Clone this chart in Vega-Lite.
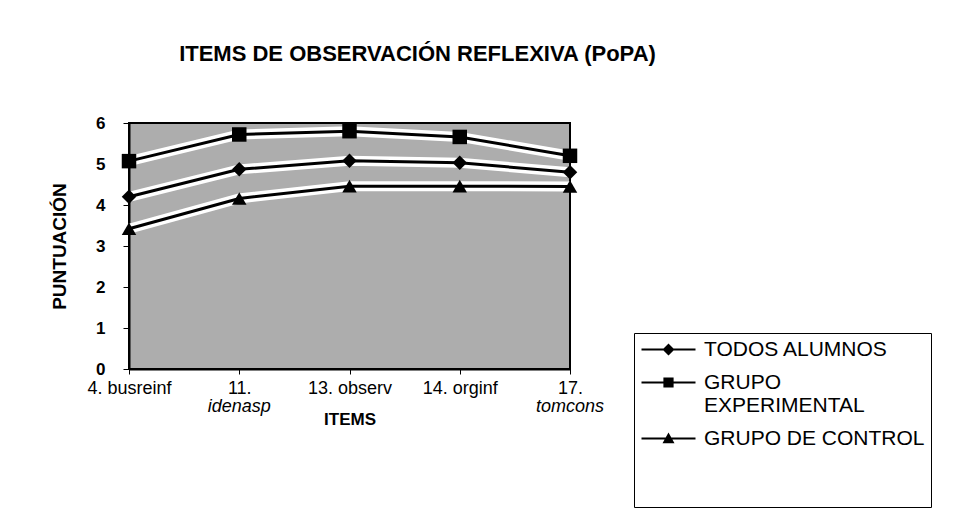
{
  "$schema": "https://vega.github.io/schema/vega-lite/v6.json",
  "autosize": {"type": "none"},
  "width": 441,
  "height": 246,
  "padding": {"left": 129, "top": 123, "right": 389, "bottom": 148},
  "background": "white",
  "title": {
    "text": "ITEMS DE OBSERVACIÓN REFLEXIVA (PoPA)",
    "font": "Liberation Sans",
    "fontSize": 22,
    "fontWeight": "bold",
    "color": "black",
    "anchor": "middle",
    "dx": 68,
    "offset": 45
  },
  "config": {
    "view": {"fill": "#adadad", "stroke": "black", "strokeWidth": 2},
    "font": "Liberation Sans"
  },
  "datasets": {
    "scores": [
      {"item": "4. busreinf", "serie": "TODOS ALUMNOS", "value": 4.2},
      {"item": "11.", "serie": "TODOS ALUMNOS", "value": 4.87},
      {"item": "13. observ", "serie": "TODOS ALUMNOS", "value": 5.08},
      {"item": "14. orginf", "serie": "TODOS ALUMNOS", "value": 5.03},
      {"item": "17.", "serie": "TODOS ALUMNOS", "value": 4.8},
      {"item": "4. busreinf", "serie": "GRUPO EXPERIMENTAL", "value": 5.07},
      {"item": "11.", "serie": "GRUPO EXPERIMENTAL", "value": 5.72},
      {"item": "13. observ", "serie": "GRUPO EXPERIMENTAL", "value": 5.8},
      {"item": "14. orginf", "serie": "GRUPO EXPERIMENTAL", "value": 5.66},
      {"item": "17.", "serie": "GRUPO EXPERIMENTAL", "value": 5.2},
      {"item": "4. busreinf", "serie": "GRUPO DE CONTROL", "value": 3.42},
      {"item": "11.", "serie": "GRUPO DE CONTROL", "value": 4.16},
      {"item": "13. observ", "serie": "GRUPO DE CONTROL", "value": 4.46},
      {"item": "14. orginf", "serie": "GRUPO DE CONTROL", "value": 4.46},
      {"item": "17.", "serie": "GRUPO DE CONTROL", "value": 4.45}
    ],
    "items": [
      {"item": "4. busreinf", "sub": ""},
      {"item": "11.", "sub": "idenasp"},
      {"item": "13. observ", "sub": ""},
      {"item": "14. orginf", "sub": ""},
      {"item": "17.", "sub": "tomcons"}
    ]
  },
  "encoding": {
    "x": {
      "field": "item",
      "type": "nominal",
      "sort": ["4. busreinf", "11.", "13. observ", "14. orginf", "17."],
      "scale": {"type": "point", "padding": 0},
      "axis": {
        "title": "ITEMS",
        "titleFont": "Liberation Sans",
        "titleFontSize": 17,
        "titleFontWeight": "bold",
        "titleColor": "black",
        "titlePadding": 14,
        "labelFont": "Liberation Sans",
        "labelFontSize": 18,
        "labelColor": "black",
        "labelAngle": 0,
        "labelPadding": 5,
        "tickSize": 5,
        "tickColor": "black",
        "domainColor": "black",
        "domainWidth": 2,
        "grid": false
      }
    }
  },
  "resolve": {"scale": {"shape": "independent"}},
  "layer": [
    {
      "data": {"name": "scores"},
      "mark": {"type": "line", "color": "white", "strokeWidth": 10},
      "encoding": {
        "y": {"field": "value", "type": "quantitative"},
        "detail": {"field": "serie"}
      }
    },
    {
      "data": {"name": "scores"},
      "mark": {"type": "line", "color": "black", "strokeWidth": 3},
      "encoding": {
        "y": {"field": "value", "type": "quantitative"},
        "detail": {"field": "serie"}
      }
    },
    {
      "data": {"name": "scores"},
      "mark": {"type": "point", "filled": true, "color": "black", "opacity": 1, "size": 210},
      "encoding": {
        "y": {
          "field": "value",
          "type": "quantitative",
          "scale": {"domain": [0, 6], "nice": false},
          "axis": {
            "title": "PUNTUACIÓN",
            "titleFont": "Liberation Sans",
            "titleFontSize": 19,
            "titleFontWeight": "bold",
            "titleColor": "black",
            "titlePadding": 26,
            "labelFont": "Liberation Sans",
            "labelFontSize": 17,
            "labelFontWeight": "bold",
            "labelColor": "black",
            "labelPadding": 18,
            "values": [0, 1, 2, 3, 4, 5, 6],
            "tickSize": 6,
            "tickColor": "black",
            "domainColor": "black",
            "domainWidth": 2,
            "grid": false
          }
        },
        "shape": {
          "field": "serie",
          "type": "nominal",
          "scale": {
            "domain": ["TODOS ALUMNOS", "GRUPO EXPERIMENTAL", "GRUPO DE CONTROL"],
            "range": ["diamond", "square", "triangle-up"]
          },
          "legend": null
        }
      }
    },
    {
      "data": {"name": "scores"},
      "mark": {"type": "point", "filled": true, "color": "black", "opacity": 0},
      "encoding": {
        "y": {"field": "value", "type": "quantitative"},
        "shape": {
          "field": "serie",
          "type": "nominal",
          "scale": {
            "domain": ["TODOS ALUMNOS", "GRUPO EXPERIMENTAL", "GRUPO DE CONTROL"],
            "range": [
              "M-4.5,-0.16H4.5V0.16H-4.5Z M0,-1L1,0L0,1L-1,0Z",
              "M-4.5,-0.16H4.5V0.16H-4.5Z M-0.85,-0.85H0.85V0.85H-0.85Z",
              "M-4.5,-0.16H4.5V0.16H-4.5Z M0,-1L1,0.8H-1Z"
            ]
          },
          "legend": {
            "orient": "none",
            "legendX": 505,
            "legendY": 210,
            "title": " ",
            "titleOrient": "bottom",
            "titleFontSize": 20,
            "titlePadding": 32,
            "strokeColor": "black",
            "fillColor": "white",
            "padding": 6,
            "labelFont": "Liberation Sans",
            "labelFontSize": 21,
            "labelColor": "black",
            "labelLimit": 400,
            "symbolSize": 144,
            "symbolOpacity": 1,
            "symbolFillColor": "black",
            "symbolOffset": 18,
            "labelOffset": 25,
            "rowPadding": 11,
            "labelExpr": "datum.label == 'GRUPO EXPERIMENTAL' ? ['GRUPO', 'EXPERIMENTAL'] : datum.label",
            "encode": {
              "symbols": {
                "update": {
                  "fill": {"value": "black"},
                  "opacity": {"value": 1}
                }
              }
            }
          }
        }
      }
    },
    {
      "data": {"name": "items"},
      "mark": {"type": "text", "font": "Liberation Sans", "fontSize": 18, "fontStyle": "italic", "color": "black", "dy": 38, "baseline": "middle"},
      "encoding": {
        "y": {"datum": 0, "type": "quantitative"},
        "text": {"field": "sub"}
      }
    }
  ]
}
